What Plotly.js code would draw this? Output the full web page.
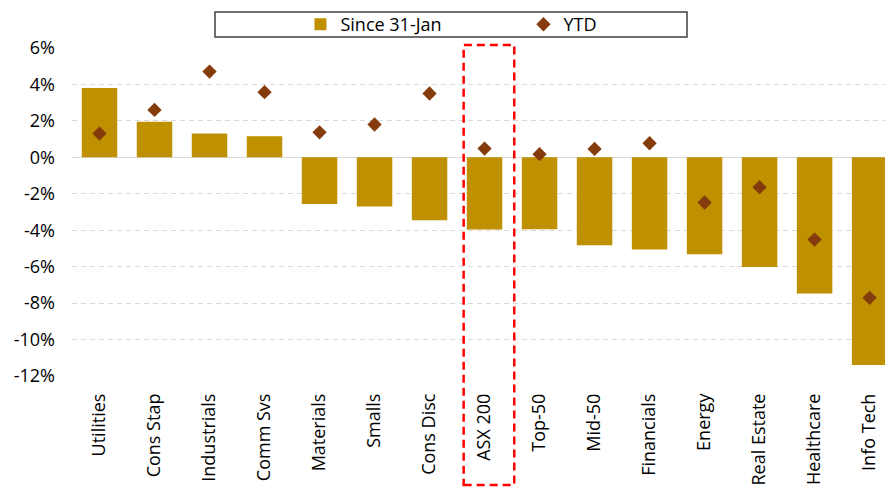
<!DOCTYPE html>
<html>
<head>
<meta charset="utf-8">
<script src="https://cdn.plot.ly/plotly-3.0.1.min.js"></script>
<style>
  html, body { margin: 0; padding: 0; background: #ffffff; overflow: hidden; }
  #chart { width: 885px; height: 502px; }
</style>
</head>
<body>
<div id="chart"></div>
<script>
// Sector and index returns (%)
const categories = ["Utilities", "Cons Stap", "Industrials", "Comm Svs", "Materials", "Smalls",
  "Cons Disc", "ASX 200", "Top-50", "Mid-50", "Financials", "Energy", "Real Estate",
  "Healthcare", "Info Tech"];
const sinceJan = [3.8, 1.95, 1.3, 1.15, -2.56, -2.7, -3.45, -3.96, -3.94, -4.83, -5.05, -5.32, -6.02, -7.47, -11.39];
const ytd = [1.3, 2.6, 4.7, 3.57, 1.37, 1.8, 3.5, 0.48, 0.17, 0.46, 0.77, -2.48, -1.64, -4.51, -7.71];
const yTickVals = [-12, -10, -8, -6, -4, -2, 0, 2, 4, 6];
const yTickText = ["-12%", "-10%", "-8%", "-6%", "-4%", "-2%", "0%", "2%", "4%", "6%"];

const FONT = "'Open Sans', 'Noto Sans', sans-serif";
const xRange = [-0.5, 14.28];
const yRange = [-12.05, 6.05];
const xp = v => (v - xRange[0]) / (xRange[1] - xRange[0]);

const traces = [
  {
    type: "bar",
    name: "Since 31-Jan",
    x: categories,
    y: sinceJan,
    marker: { color: "#BF9000" },
    hoverinfo: "x+y"
  },
  {
    type: "scatter",
    mode: "markers",
    name: "YTD",
    x: categories,
    y: ytd,
    marker: { symbol: "diamond", color: "#843C0C", size: 11 },
    hoverinfo: "x+y"
  }
];

const hi = categories.indexOf("ASX 200");

const layout = {
  width: 885,
  height: 502,
  margin: { l: 72, r: 0, t: 47, b: 125 },
  paper_bgcolor: "#ffffff",
  plot_bgcolor: "#ffffff",
  font: { family: FONT, size: 18, color: "#000000" },
  bargap: 0.355,
  showlegend: true,
  legend: {
    orientation: "h",
    x: 0.281, xanchor: "left",
    y: 1.068, yanchor: "middle",
    bgcolor: "rgba(0,0,0,0)",
    borderwidth: 0,
    entrywidth: 178,
    font: { family: FONT, size: 18, color: "#000000" },
    traceorder: "normal"
  },
  xaxis: {
    type: "category",
    range: xRange,
    tickangle: -90,
    showgrid: false,
    zeroline: false,
    showline: false,
    ticks: "",
    ticklabelstandoff: 12,
    tickfont: { family: FONT, size: 18, color: "#000000" }
  },
  yaxis: {
    range: yRange,
    tickvals: yTickVals,
    ticktext: yTickText,
    showgrid: true,
    gridcolor: "#D9D9D9",
    gridwidth: 1,
    griddash: "5px,4px",
    zeroline: true,
    zerolinecolor: "#D9D9D9",
    zerolinewidth: 1.5,
    showline: false,
    ticks: "",
    ticklabelstandoff: 16,
    tickfont: { family: FONT, size: 18, color: "#000000" }
  },
  shapes: [
    // legend frame
    {
      type: "rect", xref: "paper", yref: "paper",
      x0: (215 - 72) / 813, x1: (687 - 72) / 813,
      y0: (377 - 37) / 330, y1: (377 - 12) / 330,
      line: { color: "#404040", width: 1.5 },
      fillcolor: "rgba(0,0,0,0)"
    },
    // highlight around the ASX 200 column
    {
      type: "rect", xref: "paper", yref: "paper",
      x0: xp(hi - 0.38), x1: xp(hi + 0.54),
      y0: (377 - 485) / 330, y1: (377 - 45) / 330,
      line: { color: "#FF0000", width: 2.5, dash: "8px,5px" },
      fillcolor: "rgba(0,0,0,0)"
    }
  ]
};

Plotly.newPlot("chart", traces, layout, { displayModeBar: false, staticPlot: true });
</script>
</body>
</html>
